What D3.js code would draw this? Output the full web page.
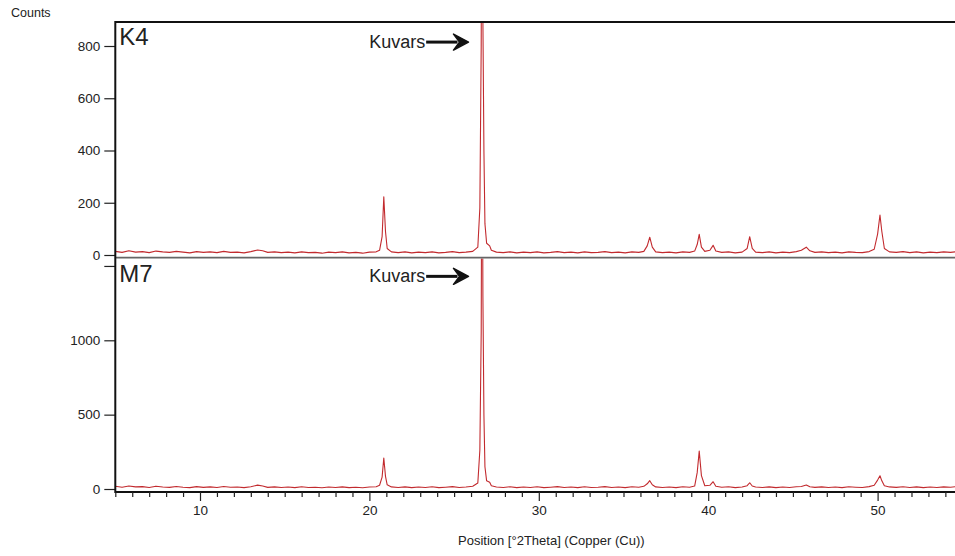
<!DOCTYPE html>
<html><head><meta charset="utf-8">
<script src="https://cdn.jsdelivr.net/npm/d3@7"></script>
<style>
html,body{margin:0;padding:0;background:#fff;overflow:hidden}
svg text{font-family:"Liberation Sans",Arial,sans-serif;fill:#222}
</style></head><body>
<svg id="c" width="955" height="556"></svg>
<script>
// ---- data ----
const xTickValues = [10, 20, 30, 40, 50];
const topTickValues = [0, 200, 400, 600, 800];
const bottomTickValues = [0, 500, 1000, 1500];
const panelLabels = ["K4", "M7"];
const annotationText = "Kuvars";
const yTitle = "Counts";
const xTitle = "Position [°2Theta] (Copper (Cu))";

const k4Theta = [5.0,5.4,5.8,6.2,6.6,7.0,7.4,7.8,8.2,8.6,9.0,9.4,9.8,10.2,10.6,11.0,11.4,11.8,12.2,12.6,13.0,13.4,13.7,14.0,14.4,14.8,15.2,15.6,16.0,16.4,16.8,17.2,17.6,18.0,18.4,18.8,19.2,19.6,20.0,20.4,20.6,20.75,20.85,20.95,21.05,21.3,21.7,22.1,22.5,22.9,23.3,23.7,24.1,24.5,24.9,25.3,25.7,26.1,26.4,26.52,26.6,26.65,26.7,26.76,26.82,26.92,27.1,27.2,27.5,27.9,28.3,28.7,29.1,29.5,29.9,30.3,30.7,31.1,31.5,31.9,32.3,32.7,33.1,33.5,33.9,34.3,34.7,35.1,35.5,35.9,36.2,36.4,36.55,36.7,36.9,37.3,37.7,38.1,38.5,38.9,39.2,39.35,39.47,39.6,39.8,40.1,40.29,40.45,40.8,41.2,41.6,42.0,42.3,42.45,42.6,42.8,43.2,43.6,44.0,44.4,44.8,45.2,45.5,45.79,46.0,46.3,46.7,47.1,47.5,47.9,48.3,48.7,49.1,49.5,49.8,50.0,50.14,50.25,50.4,50.7,51.1,51.5,51.9,52.3,52.7,53.1,53.5,53.9,54.3,54.7,55.0];
const k4Counts = [14,10,16,11,13,9,15,12,10,14,11,8,13,10,12,9,14,10,11,8,13,19,16,10,12,9,11,8,12,9,10,7,11,9,12,8,10,7,11,12,18,70,223,90,25,12,9,12,8,11,9,12,8,10,13,9,11,14,30,180,800,2000,900,400,120,45,35,18,11,9,12,8,11,9,12,8,10,13,9,11,8,12,9,10,13,9,11,8,12,10,14,35,68,30,12,9,11,8,12,10,15,40,79,30,14,18,37,15,10,12,8,11,25,70,25,11,9,12,8,11,9,13,18,30,16,10,12,9,11,8,12,10,9,13,22,80,153,90,25,12,10,13,9,12,8,11,9,12,10,13,11];

const m7Theta = [5.0,5.4,5.8,6.2,6.6,7.0,7.4,7.8,8.2,8.6,9.0,9.4,9.8,10.2,10.6,11.0,11.4,11.8,12.2,12.6,13.0,13.4,13.7,14.0,14.4,14.8,15.2,15.6,16.0,16.4,16.8,17.2,17.6,18.0,18.4,18.8,19.2,19.6,20.0,20.4,20.6,20.75,20.85,20.95,21.05,21.3,21.7,22.1,22.5,22.9,23.3,23.7,24.1,24.5,24.9,25.3,25.7,26.1,26.4,26.52,26.6,26.65,26.7,26.76,26.82,26.92,27.1,27.2,27.5,27.9,28.3,28.7,29.1,29.5,29.9,30.3,30.7,31.1,31.5,31.9,32.3,32.7,33.1,33.5,33.9,34.3,34.7,35.1,35.5,35.9,36.2,36.4,36.55,36.7,36.9,37.3,37.7,38.1,38.5,38.9,39.2,39.35,39.47,39.6,39.8,40.1,40.29,40.45,40.8,41.2,41.6,42.0,42.3,42.45,42.6,42.8,43.2,43.6,44.0,44.4,44.8,45.2,45.5,45.79,46.0,46.3,46.7,47.1,47.5,47.9,48.3,48.7,49.1,49.5,49.8,50.0,50.14,50.25,50.4,50.7,51.1,51.5,51.9,52.3,52.7,53.1,53.5,53.9,54.3,54.7,55.0];
const m7Counts = [18,12,20,14,16,10,19,13,11,17,12,9,16,11,14,10,17,12,13,9,15,26,20,11,14,10,13,9,15,10,12,8,13,10,14,9,12,8,13,15,25,80,208,85,28,14,10,14,9,13,10,15,9,12,16,10,13,18,40,260,1050,3000,1300,500,150,55,45,22,13,10,15,9,13,10,15,9,12,16,10,13,9,15,10,12,16,10,13,9,15,12,18,35,56,28,14,10,13,9,15,12,20,110,255,90,22,25,49,18,12,15,9,13,22,42,20,13,10,14,9,13,10,15,17,27,15,11,14,10,13,9,15,12,10,16,25,60,89,55,22,14,11,15,10,14,9,13,10,14,12,16,13];

// ---- layout ----
const svg = d3.select("#c");
const W = 955;
const x = d3.scaleLinear().domain([5, 55]).range([115.3, 962.3]);
const yTop = d3.scaleLinear().domain([0, 800]).range([255, 46]);
const yBot = d3.scaleLinear().domain([0, 1000]).range([489, 340.3]);
const panels = [
  {y: yTop, top: 22, bottom: 257.5, theta: k4Theta, counts: k4Counts, ticks: topTickValues, label: panelLabels[0], ann: 815},
  {y: yBot, top: 258.5, bottom: 492, theta: m7Theta, counts: m7Counts, ticks: bottomTickValues, label: panelLabels[1], ann: 1430}
];
const lineColor = "#c22a2e";

const defs = svg.append("defs");
panels.forEach((p, i) => {
  defs.append("clipPath").attr("id", "clip" + i)
    .append("rect").attr("x", x(5)).attr("y", p.top)
    .attr("width", W - x(5)).attr("height", p.bottom - p.top);

  const g = svg.append("g");
  const data = p.theta.map((t, j) => [t, p.counts[j]]);
  g.append("path").datum(data)
    .attr("clip-path", "url(#clip" + i + ")")
    .attr("fill", "none").attr("stroke", lineColor).attr("stroke-width", 1.1)
    .attr("stroke-linejoin", "round")
    .attr("d", d3.line().x(d => x(d[0])).y(d => p.y(d[1])));

  // y axis
  const ax = svg.append("g").attr("transform", `translate(${x(5)},0)`)
    .call(d3.axisLeft(p.y).tickValues(p.ticks).tickSize(11).tickPadding(4)
      .tickFormat(v => (v === 1500 ? "" : d3.format("d")(v))));
  ax.select(".domain").remove();
  ax.selectAll(".tick line").attr("stroke", "#222").attr("stroke-width", 1.2);
  ax.selectAll(".tick text").attr("font-size", 13.5).attr("fill", "#222")
    .attr("font-family", "Liberation Sans, Arial, sans-serif");

  // panel label
  svg.append("text").attr("x", x(5) + 4).attr("y", p.top + 23)
    .attr("font-size", 24).text(p.label);

  // annotation
  svg.append("text").attr("x", x(23.3)).attr("y", p.y(p.ann) + 6)
    .attr("text-anchor", "end").attr("font-size", 18).text(annotationText);
  const ay = p.y(p.ann);
  svg.append("line").attr("x1", x(23.35)).attr("x2", x(25.2))
    .attr("y1", ay).attr("y2", ay).attr("stroke", "#111").attr("stroke-width", 3);
  const tip = x(25.85);
  svg.append("path")
    .attr("d", `M${tip},${ay} L${tip - 15},${ay - 8} L${tip - 9},${ay} L${tip - 15},${ay + 8} Z`)
    .attr("fill", "#111").attr("stroke", "#111").attr("stroke-width", 1.5).attr("stroke-linejoin", "round");
});

// frame lines
svg.append("line").attr("x1", x(5)).attr("x2", W).attr("y1", 22).attr("y2", 22)
  .attr("stroke", "#111").attr("stroke-width", 2);
svg.append("line").attr("x1", x(5)).attr("x2", W).attr("y1", 257.6).attr("y2", 257.6)
  .attr("stroke", "#666").attr("stroke-width", 1.6);
svg.append("line").attr("x1", x(5)).attr("x2", x(5)).attr("y1", 21).attr("y2", 493)
  .attr("stroke", "#111").attr("stroke-width", 2);

// x axis
const xa = svg.append("g").attr("transform", "translate(0,492)")
  .call(d3.axisBottom(x).tickValues(d3.range(5, 56, 1)).tickSize(4).tickPadding(9)
    .tickFormat(v => (xTickValues.includes(v) ? v : "")));
xa.select(".domain").attr("stroke", "#111").attr("stroke-width", 2).attr("d", `M${x(5)},0H${W}`);
xa.selectAll(".tick line").attr("stroke", "#222").attr("stroke-width", 1.2)
  .attr("y2", v => (xTickValues.includes(v) ? 9 : 5));
xa.selectAll(".tick text").attr("font-size", 13.5).attr("fill", "#222")
  .attr("font-family", "Liberation Sans, Arial, sans-serif");

// titles
svg.append("text").attr("x", 11).attr("y", 17).attr("font-size", 12.5).text(yTitle);
svg.append("text").attr("x", 458).attr("y", 545).attr("font-size", 13).text(xTitle);
</script>
</body></html>
